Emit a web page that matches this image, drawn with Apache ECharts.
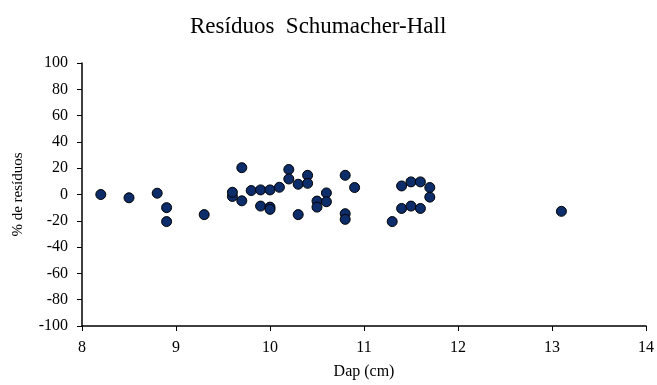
<!DOCTYPE html>
<html>
<head>
<meta charset="utf-8">
<script src="https://cdn.jsdelivr.net/npm/echarts@6/dist/echarts.min.js"></script>
<style>html,body{margin:0;padding:0;background:#fff;}#c{width:657px;height:385px;}</style>
</head>
<body>
<div id="c"></div>
<script>
var dap = [8.2, 8.5, 8.8, 8.9, 8.9, 9.3, 9.6, 9.6, 9.7, 9.7, 9.8, 9.9, 9.9, 10.0, 10.0, 10.0, 10.1, 10.2, 10.2, 10.3, 10.3, 10.4, 10.4, 10.5, 10.5, 10.6, 10.6, 10.8, 10.8, 10.8, 10.9, 11.3, 11.4, 11.4, 11.5, 11.5, 11.6, 11.6, 11.7, 11.7, 13.1];
var residuos = [0, -2.5, 1, -10, -20.6, -15.3, -1.5, 1.7, 20.4, -4.8, 3, 3.5, -8.8, 3.5, -9.6, -11.3, 5.5, 19, 11.8, 7.8, -15.3, 14.6, 8.5, -5, -9.6, 1.2, -5.5, 14.6, -14.6, -18.9, 5.3, -20.6, 6.5, -10.6, 9.6, -8.8, 9.6, -10.6, 5.3, -2, -12.8];
var titleText = 'Resíduos  Schumacher-Hall';
var xName = 'Dap (cm)';
var yName = '% de resíduos';

var pts = dap.map(function (d, i) { return [d, residuos[i]]; });
var font = '"Liberation Serif", "Times New Roman", serif';
var chart = echarts.init(document.getElementById('c'));
chart.setOption({
  animation: false,
  backgroundColor: '#fff',
  title: {
    text: titleText, left: 185, top: 10,
    textStyle: { fontFamily: font, fontSize: 23, fontWeight: 'normal', color: '#000' }
  },
  grid: { left: 82, right: 9, top: 63, bottom: 57 },
  xAxis: {
    type: 'value', min: 8, max: 14, interval: 1,
    name: xName, nameLocation: 'middle', nameGap: 38,
    nameTextStyle: { fontFamily: font, fontSize: 16, color: '#000' },
    axisLine: { show: true, onZero: false, lineStyle: { color: '#000', width: 1.5 } },
    axisTick: { show: true, length: 5, lineStyle: { color: '#000' } },
    axisLabel: { fontFamily: font, fontSize: 16, color: '#000', margin: 14 },
    splitLine: { show: false }
  },
  yAxis: {
    type: 'value', min: -100, max: 100, interval: 20,
    name: yName, nameLocation: 'middle', nameGap: 56, nameRotate: 90,
    nameTextStyle: { fontFamily: font, fontSize: 15, color: '#000' },
    axisLine: { show: true, onZero: false, lineStyle: { color: '#000', width: 1.5 } },
    axisTick: { show: true, length: 5, lineStyle: { color: '#000' } },
    axisLabel: { fontFamily: font, fontSize: 16, color: '#000', margin: 14 },
    splitLine: { show: false }
  },
  series: [{
    type: 'scatter',
    data: pts,
    symbol: 'circle',
    symbolSize: 10,
    itemStyle: { color: '#0c2c6a', borderColor: '#000', borderWidth: 1, opacity: 1 }
  }]
});
</script>
</body>
</html>
